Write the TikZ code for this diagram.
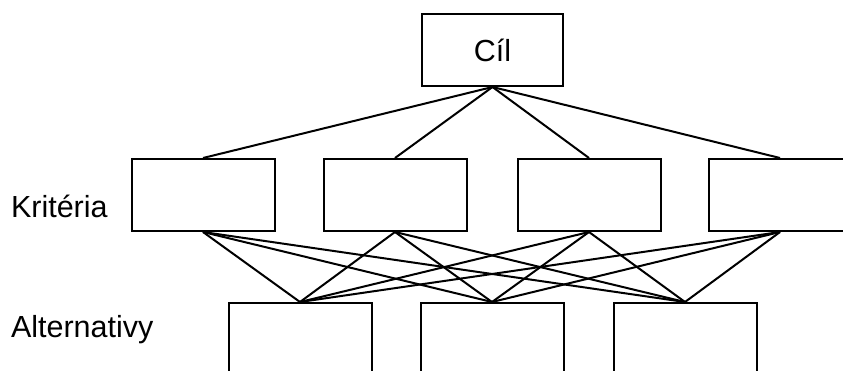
\documentclass[tikz,border=0pt]{standalone}
\usepackage{fontspec}
\setmainfont{Liberation Sans}
\usepackage{tikz}
\usetikzlibrary{positioning}

\begin{document}
\begin{tikzpicture}[x=1pt,y=-1pt,-,auto,line width=2pt,font=\fontsize{30.5}{36}\selectfont]
 				 \tikzstyle{box}=[draw, rectangle, minimum width=143pt, minimum height=72pt, inner sep=0pt]
 				 \useasboundingbox (0,0) rectangle (843,370);
 				 \clip (0,0) rectangle (843,370);

						% goal
						\node[box, minimum width=141pt] (G) at (492.5,50) {C\'{\i}l};

						% criteria
						\node[box] (K1) at (203,195) {};
						\node[box] (K2) at (395,195) {};
						\node[box] (K3) at (589,195) {};
						\node[box] (K4) at (780,195) {};

						% alternatives
						\node[box] (A1) at (300,339) {};
						\node[box] (A2) at (492,339) {};
						\node[box] (A3) at (685,339) {};

						\node[anchor=base west, inner sep=0pt] (LK) at (10,217) {Krit\'eria};
						\node[anchor=base west, inner sep=0pt] (LA) at (10,337) {Alternativy};

						\path
							(G.south) edge (K1.north)
							(G.south) edge (K2.north)
							(G.south) edge (K3.north)
							(G.south) edge (K4.north)
							(K1.south) edge (A1.north)
							(K1.south) edge (A2.north)
							(K1.south) edge (A3.north)
							(K2.south) edge (A1.north)
							(K2.south) edge (A2.north)
							(K2.south) edge (A3.north)
							(K3.south) edge (A1.north)
							(K3.south) edge (A2.north)
							(K3.south) edge (A3.north)
							(K4.south) edge (A1.north)
							(K4.south) edge (A2.north)
							(K4.south) edge (A3.north);
 				\end{tikzpicture}
\end{document}
